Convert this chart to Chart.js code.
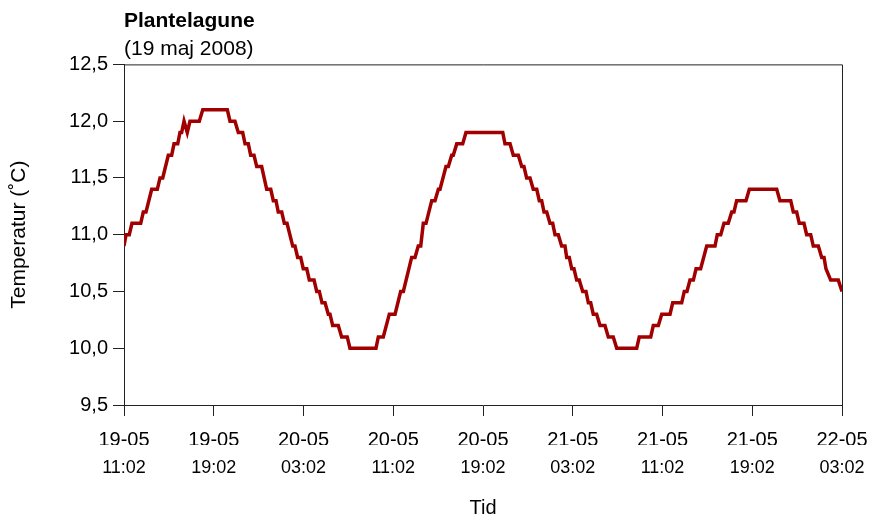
<!DOCTYPE html>
<html>
<head>
<meta charset="utf-8">
<script src="https://cdn.jsdelivr.net/npm/chart.js@4"></script>
<style>
  body { margin: 0; background: #fff; }
</style>
</head>
<body>
<canvas id="temp-chart" width="872" height="515"></canvas>
<script>
// hours since 19-05 11:02
const hours = [
  0.00, 0.18, 0.47, 0.71, 1.49, 1.72, 1.96, 2.47, 2.97, 3.21,
  3.45, 3.95, 4.25, 4.46, 4.79, 4.99, 5.14, 5.35, 5.64, 5.88,
  6.71, 7.02, 9.21, 9.45, 9.89, 10.19, 10.58, 10.79, 11.08, 11.29,
  11.59, 11.83, 12.27, 12.72, 13.08, 13.31, 13.55, 13.75, 14.06, 14.29,
  14.53, 15.04, 15.24, 15.48, 15.75, 15.98, 16.29, 16.52, 16.94, 17.18,
  17.41, 17.65, 17.92, 18.21, 18.36, 18.60, 19.10, 19.40, 19.90, 20.14,
  22.46, 22.67, 23.11, 23.65, 24.16, 24.66, 24.90, 25.64, 25.94, 26.23,
  26.45, 26.68, 26.92, 27.43, 27.72, 28.02, 28.17, 28.70, 28.91, 29.21,
  29.35, 29.66, 30.19, 30.48, 33.76, 33.96, 34.41, 34.70, 35.15, 35.45,
  35.65, 35.89, 36.19, 36.48, 36.79, 37.02, 37.23, 37.44, 37.68, 37.97,
  38.21, 38.42, 38.71, 39.01, 39.31, 39.46, 39.69, 39.91, 40.11, 40.35,
  40.58, 40.89, 41.18, 41.39, 41.60, 41.83, 42.13, 42.43, 42.87, 43.17,
  43.61, 43.92, 45.70, 45.93, 46.95, 47.18, 47.63, 47.93, 48.67, 48.91,
  49.71, 49.94, 50.18, 50.45, 50.75, 50.99, 51.40, 51.94, 52.68, 52.88,
  53.19, 53.48, 53.86, 54.17, 54.37, 54.61, 55.44, 55.74, 58.18, 58.47,
  59.43, 59.66, 59.96, 60.19, 60.61, 60.85, 61.21, 61.44, 61.89, 62.19,
  62.40, 62.57, 62.99, 63.67, 64.00
];
const temps = [
  10.9, 11.0, 11.0, 11.1, 11.1, 11.2, 11.2, 11.4, 11.4, 11.5,
  11.5, 11.7, 11.7, 11.8, 11.8, 11.9, 11.9, 12.0, 11.9, 12.0,
  12.0, 12.1, 12.1, 12.0, 12.0, 11.9, 11.9, 11.8, 11.8, 11.7,
  11.7, 11.6, 11.6, 11.4, 11.4, 11.3, 11.3, 11.2, 11.2, 11.1,
  11.1, 10.9, 10.9, 10.8, 10.8, 10.7, 10.7, 10.6, 10.6, 10.5,
  10.5, 10.4, 10.4, 10.3, 10.3, 10.2, 10.2, 10.1, 10.1, 10.0,
  10.0, 10.1, 10.1, 10.3, 10.3, 10.5, 10.5, 10.8, 10.8, 10.9,
  10.9, 11.1, 11.1, 11.3, 11.3, 11.4, 11.4, 11.6, 11.6, 11.7,
  11.7, 11.8, 11.8, 11.9, 11.9, 11.8, 11.8, 11.7, 11.7, 11.6,
  11.6, 11.5, 11.5, 11.4, 11.4, 11.3, 11.3, 11.2, 11.2, 11.1,
  11.1, 11.0, 11.0, 10.9, 10.9, 10.8, 10.8, 10.7, 10.7, 10.6,
  10.6, 10.5, 10.5, 10.4, 10.4, 10.3, 10.3, 10.2, 10.2, 10.1,
  10.1, 10.0, 10.0, 10.1, 10.1, 10.2, 10.2, 10.3, 10.3, 10.4,
  10.4, 10.5, 10.5, 10.6, 10.6, 10.7, 10.7, 10.9, 10.9, 11.0,
  11.0, 11.1, 11.1, 11.2, 11.2, 11.3, 11.3, 11.4, 11.4, 11.3,
  11.3, 11.2, 11.2, 11.1, 11.1, 11.0, 11.0, 10.9, 10.9, 10.8,
  10.8, 10.7, 10.6, 10.6, 10.5
];

// x tick labels, one per 8 hours
const dateLabels = ["19-05", "19-05", "20-05", "20-05", "20-05", "21-05", "21-05", "21-05", "22-05"];
const timeLabels = ["11:02", "19:02", "03:02", "11:02", "19:02", "03:02", "11:02", "19:02", "03:02"];
const yTicks = [9.5, 10.0, 10.5, 11.0, 11.5, 12.0, 12.5];

const FONT = "'Liberation Sans', Arial, Helvetica, sans-serif";
const AXIS_COLOR = "#222";

// top and right edge of the plot box
const frameBox = {
  id: "frameBox",
  afterDraw(chart) {
    const { ctx, chartArea: a } = chart;
    ctx.save();
    ctx.strokeStyle = AXIS_COLOR;
    ctx.lineWidth = 1;
    ctx.beginPath();
    ctx.moveTo(a.left, a.top + 0.5);
    ctx.lineTo(a.right + 0.5, a.top + 0.5);
    ctx.lineTo(a.right + 0.5, a.bottom);
    ctx.stroke();
    ctx.restore();
  },
};

// fixed box sizes so the plot area lands where it should
const fixX = (h) => (scale) => {
  scale.height = h;
  scale.paddingLeft = 0;
  scale.paddingRight = 0;
};

new Chart(document.getElementById("temp-chart"), {
  type: "line",
  data: {
    datasets: [
      {
        data: hours.map((h, i) => ({ x: h, y: temps[i] })),
        borderColor: "#a00000",
        borderWidth: 3.5,
        pointRadius: 0,
        tension: 0,
        fill: false,
      },
    ],
  },
  options: {
    responsive: false,
    animation: false,
    layout: { padding: { left: 0, right: 30, top: 0, bottom: 0 } },
    plugins: {
      legend: { display: false },
      tooltip: { enabled: false },
      title: {
        display: true,
        text: "Plantelagune",
        align: "start",
        fullSize: false,
        color: "#000",
        font: { family: FONT, size: 21, weight: "bold" },
        padding: { top: 9, bottom: 2 },
      },
      subtitle: {
        display: true,
        text: "(19 maj 2008)",
        align: "start",
        fullSize: false,
        color: "#000",
        font: { family: FONT, size: 21 },
        padding: { top: 0, bottom: 3 },
      },
    },
    scales: {
      x: {
        type: "linear",
        position: "bottom",
        min: 0,
        max: 64,
        afterBuildTicks: (scale) => {
          scale.ticks = dateLabels.map((d, i) => ({ value: i * 8 }));
        },
        ticks: {
          autoSkip: false,
          maxRotation: 0,
          padding: 12,
          color: "#000",
          font: { family: FONT, size: 20 },
          callback: (v) => dateLabels[Math.round(v / 8)],
        },
        grid: { drawOnChartArea: false, tickLength: 11, color: AXIS_COLOR },
        border: { color: AXIS_COLOR },
        afterFit: fixX(40),
      },
      x2: {
        type: "linear",
        position: "bottom",
        min: 0,
        max: 64,
        afterBuildTicks: (scale) => {
          scale.ticks = timeLabels.map((t, i) => ({ value: i * 8 }));
        },
        ticks: {
          autoSkip: false,
          maxRotation: 0,
          padding: 12,
          color: "#000",
          font: { family: FONT, size: 18 },
          callback: (v) => timeLabels[Math.round(v / 8)],
        },
        grid: { display: false, drawTicks: false },
        border: { display: false },
        title: {
          display: true,
          text: "Tid",
          color: "#000",
          font: { family: FONT, size: 20, lineHeight: 0.7 },
          padding: { top: 0, bottom: 0 },
        },
        afterFit: fixX(70),
      },
      y: {
        min: 9.5,
        max: 12.5,
        afterBuildTicks: (scale) => {
          scale.ticks = yTicks.map((v) => ({ value: v }));
        },
        ticks: {
          padding: 5,
          color: "#000",
          font: { family: FONT, size: 20 },
          callback: (v) => v.toFixed(1).replace(".", ","),
        },
        grid: { drawOnChartArea: false, tickLength: 11, color: AXIS_COLOR },
        border: { color: AXIS_COLOR },
        title: {
          display: true,
          text: "Temperatur (˚C)",
          color: "#000",
          font: { family: FONT, size: 21 },
          padding: { top: 7, bottom: 0 },
        },
        afterFit: (scale) => { scale.width = 124; },
      },
    },
  },
  plugins: [frameBox],
});
</script>
</body>
</html>
